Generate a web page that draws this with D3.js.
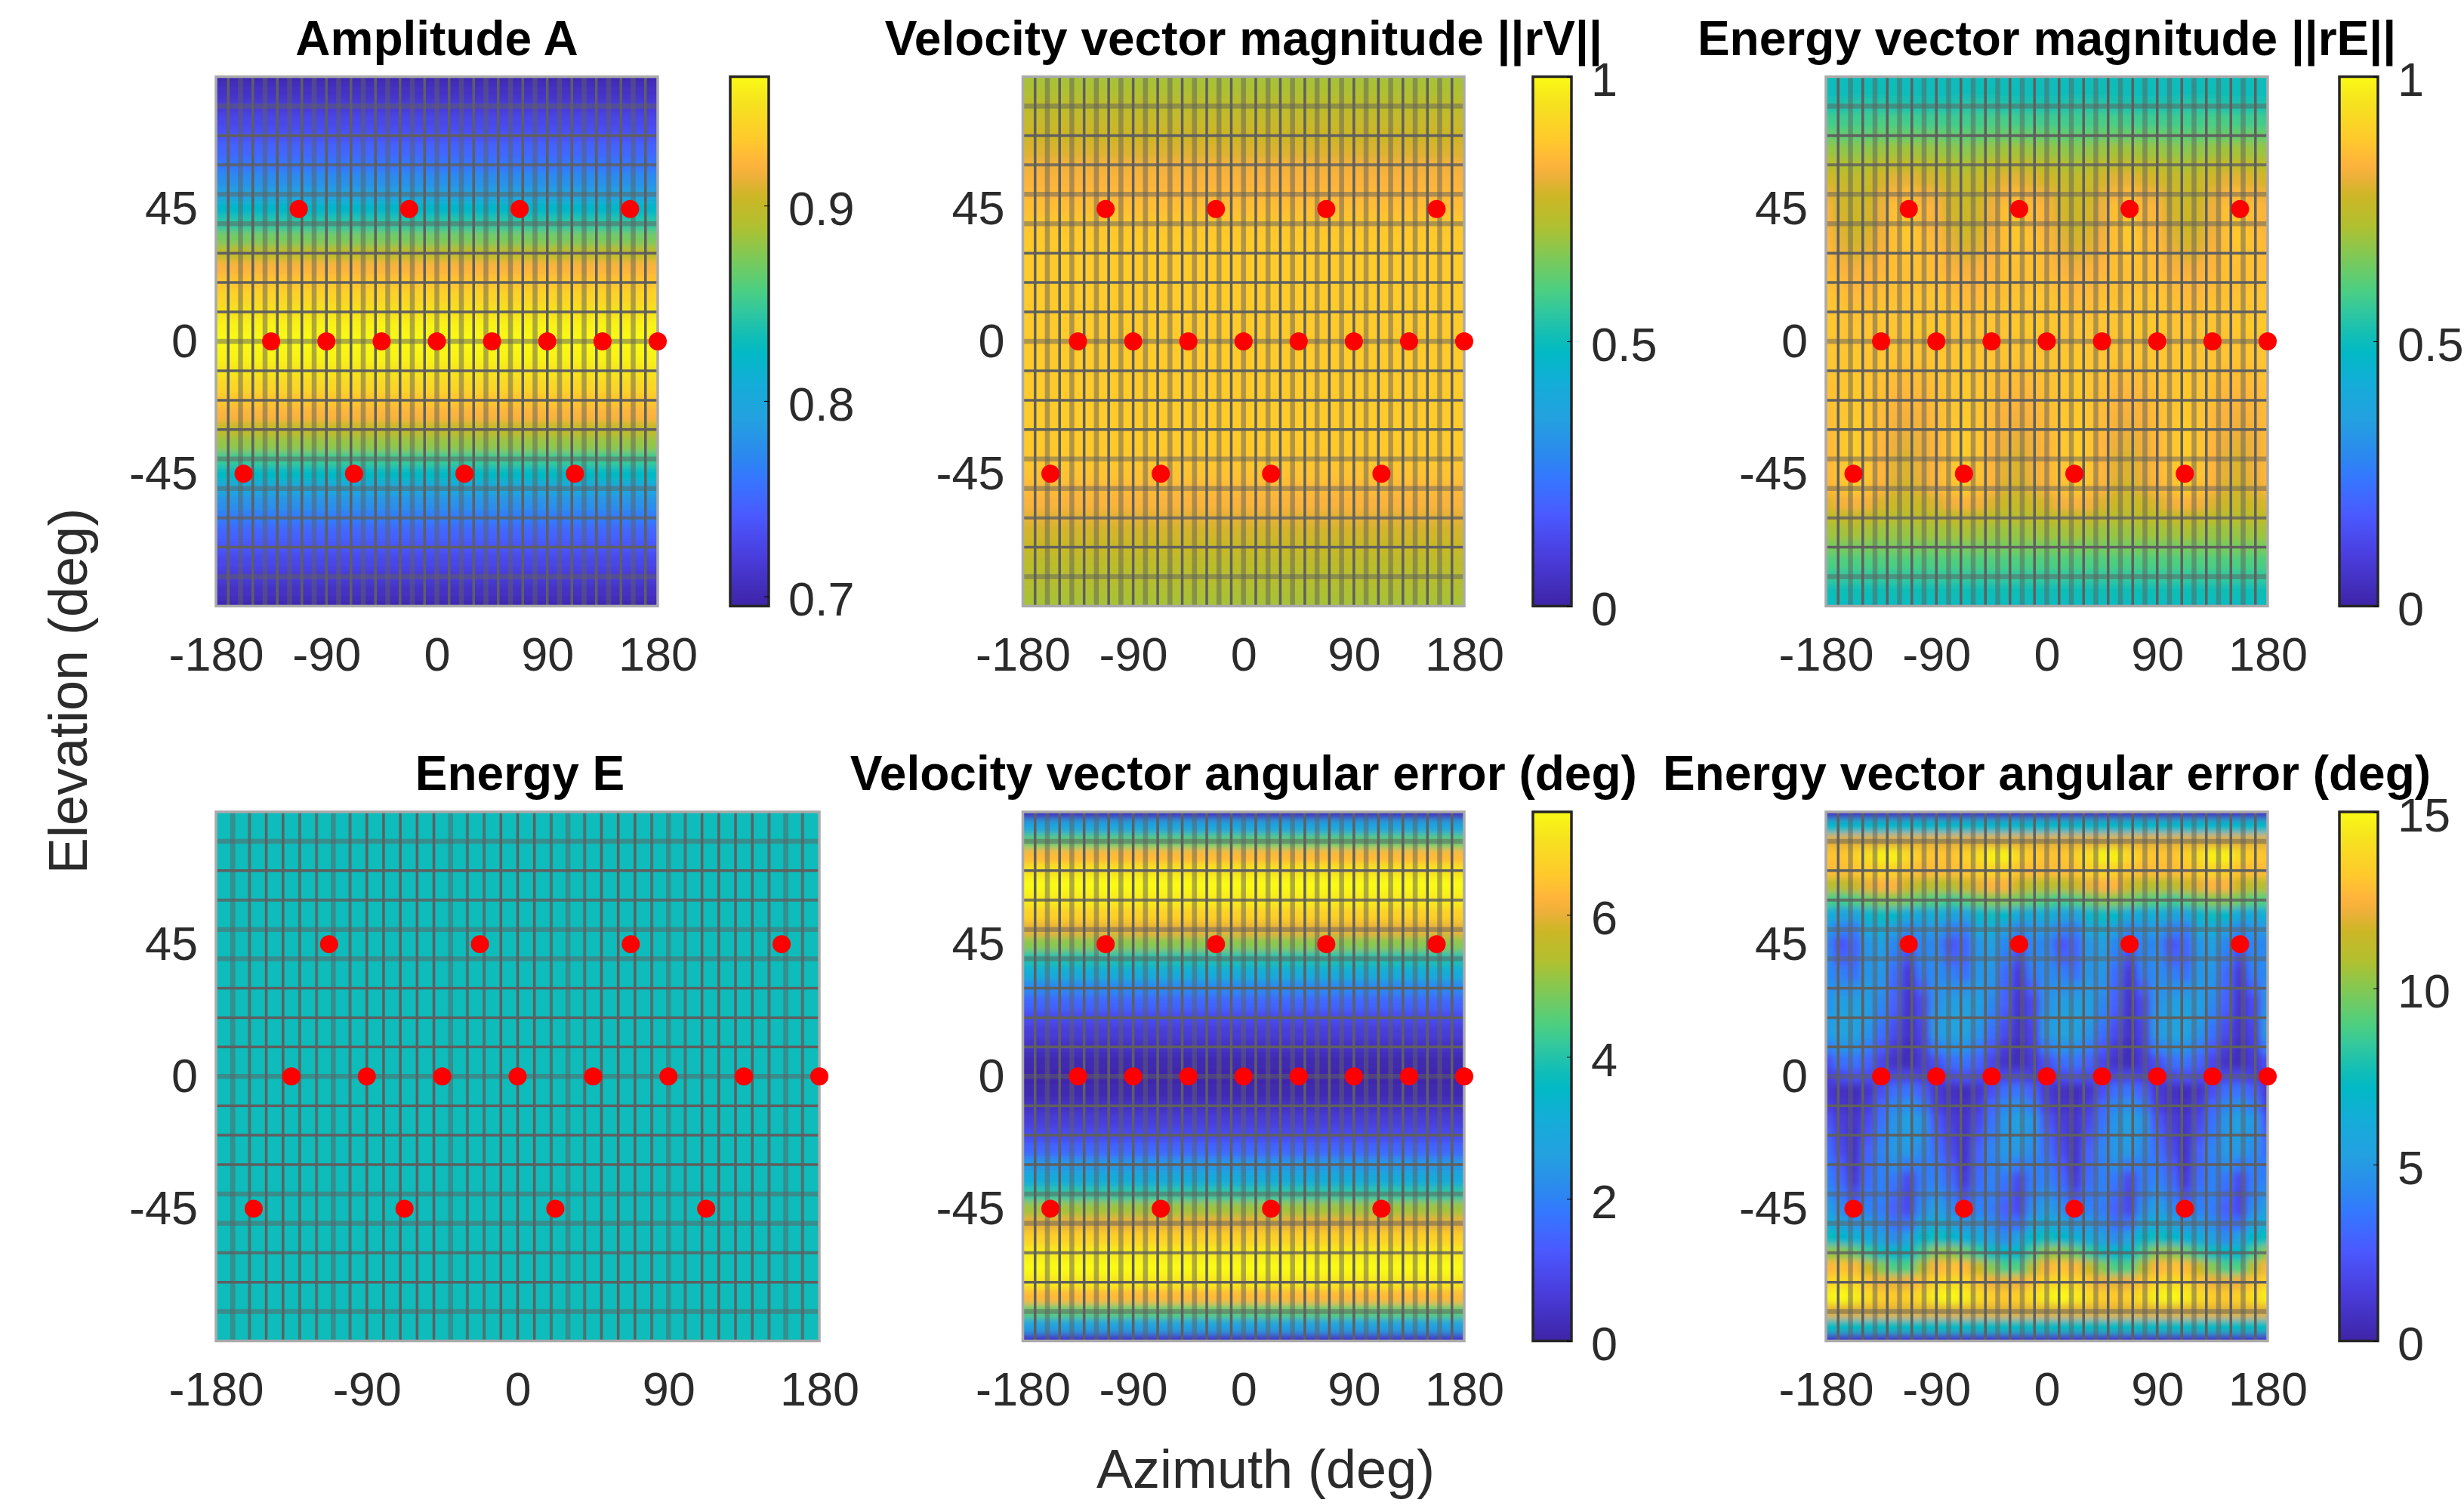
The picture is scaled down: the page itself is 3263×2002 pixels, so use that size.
<!DOCTYPE html>
<meta charset="utf-8">

<script src="https://d3js.org/d3.v7.min.js"></script>

<style type="text/css">
body { margin: 0; background: #fff; }
svg { display: block; filter: blur(0.6px); }
text { font-family: "Liberation Sans", Arial, sans-serif; }
</style>

<body></body>

<script>

// axes
var elevations = [90,85,80,75,70,65,60,55,50,45,40,35,30,25,20,15,10,5,0,-5,-10,-15,-20,-25,-30,-35,-40,-45,-50,-55,-60,-65,-70,-75,-80,-85,-90];
var azPeriod = [-180,-168.75,-157.5,-146.25,-135,-123.75,-112.5,-101.25]; // table columns, the picture repeats every 90 deg
var azTicks = [-180,-90,0,90,180];
var elTicks = [45,0,-45];

// loudspeaker positions (red dots)
var spkAz = [-112.5,-22.5,67.5,157.5,-135,-90,-45,0,45,90,135,180,-157.5,-67.5,22.5,112.5];
var spkEl = [45,45,45,45,0,0,0,0,0,0,0,0,-45,-45,-45,-45];

// values by elevation
var amplitudeA = [.700,.709,.717,.728,.736,.749,.760,.776,.793,.822,.844,.871,.896,.920,.931,.942,.952,.962,.966,.962,.954,.944,.931,.920,.898,.880,.850,.826,.800,.779,.763,.749,.738,.728,.717,.709,.700];
var velocityMag = [.705,.715,.74,.76,.775,.79,.815,.83,.845,.86,.875,.88,.885,.885,.885,.885,.885,.885,.885,.885,.885,.885,.885,.885,.885,.88,.875,.865,.85,.83,.80,.78,.765,.74,.73,.715,.705];
var energyE = [1,1,1,1,1,1,1,1,1,1,1,1,1,1,1,1,1,1,1,1,1,1,1,1,1,1,1,1,1,1,1,1,1,1,1,1,1];
var velocityErr = [.3,2.8,4.6,6.3,7.1,7.45,7.2,6.7,6.0,5.0,3.9,3.1,2.1,1.5,1.0,.65,.38,.15,.05,.15,.35,.65,1.0,1.5,2.4,3.0,4.1,5.2,6.0,6.7,7.2,7.45,7.15,6.3,4.6,2.7,.4];

// values by elevation (rows) and azimuth over one 90 deg period (columns)
var energyMag = [
  [.50,.50,.50,.50,.50,.50,.50,.50],
  [.50,.50,.50,.51,.51,.51,.50,.50],
  [.53,.53,.54,.54,.54,.53,.53,.53],
  [.58,.58,.58,.58,.59,.59,.58,.58],
  [.63,.62,.62,.62,.63,.63,.63,.63],
  [.69,.68,.67,.68,.69,.70,.70,.69],
  [.74,.72,.71,.72,.74,.75,.75,.74],
  [.78,.76,.75,.76,.78,.80,.80,.79],
  [.81,.78,.76,.77,.80,.83,.85,.82],
  [.83,.78,.77,.78,.81,.86,.88,.85],
  [.83,.79,.77,.78,.81,.86,.88,.85],
  [.84,.80,.78,.79,.82,.86,.88,.86],
  [.85,.81,.79,.80,.83,.86,.87,.86],
  [.85,.83,.82,.83,.84,.86,.86,.86],
  [.86,.85,.84,.84,.85,.86,.86,.86],
  [.87,.86,.85,.85,.86,.86,.87,.87],
  [.87,.87,.86,.86,.87,.87,.87,.87],
  [.88,.87,.87,.87,.87,.87,.88,.88],
  [.87,.87,.87,.87,.87,.87,.87,.87],
  [.87,.87,.88,.87,.87,.87,.87,.87],
  [.87,.87,.88,.87,.87,.86,.86,.86],
  [.86,.87,.88,.87,.86,.85,.85,.85],
  [.86,.87,.88,.87,.86,.84,.84,.84],
  [.85,.87,.88,.87,.85,.83,.82,.83],
  [.85,.87,.89,.87,.85,.82,.81,.82],
  [.84,.87,.89,.87,.84,.81,.80,.81],
  [.84,.87,.89,.87,.84,.80,.79,.81],
  [.84,.87,.89,.87,.84,.80,.79,.81],
  [.83,.86,.88,.86,.83,.79,.78,.80],
  [.79,.82,.83,.82,.79,.77,.76,.77],
  [.74,.75,.76,.75,.74,.73,.73,.74],
  [.70,.70,.71,.70,.69,.69,.69,.70],
  [.65,.65,.65,.65,.65,.65,.65,.65],
  [.60,.60,.60,.60,.60,.60,.60,.60],
  [.56,.56,.56,.56,.56,.56,.56,.56],
  [.51,.51,.51,.51,.51,.51,.51,.51],
  [.49,.49,.49,.49,.49,.49,.49,.49]
];
var energyErr = [
  [.7,.7,.7,.7,.7,.7,.7,.7],
  [7,7,7,7,7,7,7,7],
  [12,12,12,12,12,12,12,12],
  [13,13,13.5,14,14.7,14.7,13.8,13.2],
  [12.8,12.8,13,13.4,13.6,13.5,13,12.7],
  [11,11,11.5,12,12.5,12.5,11.5,11],
  [9,8.6,9,9.5,10,10,9.6,9.2],
  [6.4,5.6,5.4,6.8,7.4,7,6,6],
  [5,4,3.8,5.8,6.2,5.2,4.2,4.8],
  [4.2,2.4,3,4.8,5.2,4.2,2.8,4.2],
  [4.4,3,3,4.8,5,3.8,2,4.2],
  [4.4,4,3.4,4.8,4.8,3.2,1.3,3.8],
  [4.6,4.6,4.6,5,4.6,3,1.1,2.8],
  [4.6,5.2,5.2,5.2,4.3,2.8,1,2],
  [4.9,5.4,5.4,5.1,3.9,2.4,.9,2],
  [5,5.5,5.4,4.8,3.4,2,.9,1.7],
  [3.9,4.7,4.7,3.9,2.6,1.3,.6,1.6],
  [2.2,3.3,3.5,2.9,1.8,.9,.5,1.2],
  [1.4,2,2.2,2,1.8,1.8,1.8,1.6],
  [1.2,.8,.6,1,2.2,3.3,3.5,2.8],
  [1.6,1,.7,1.4,3,4.2,4.6,3.8],
  [2.4,1.4,1,1.9,3.4,4.8,5.3,4.8],
  [2.9,1.7,.9,2.3,3.8,4.9,5.2,4.7],
  [3.3,2,.9,2.8,4.1,4.9,5,4.4],
  [3.7,2.6,1,3,4,4.5,3.8,4],
  [4,3.1,1.2,3.2,4,3.6,2,3.8],
  [4.6,3.7,2,3.6,4,3.2,1.8,4],
  [5.2,4.4,3.2,4,3.8,2.8,1.9,4.4],
  [6.2,5.6,4.8,4.9,4.4,3.4,3.4,5.6],
  [7.5,7,6.5,6,5.2,4.4,5.4,7],
  [10.2,10.2,9.5,8.5,7.5,7,7.2,8.8],
  [12.5,13,12.7,11.5,10,8.8,9,11],
  [13.6,14,13.8,13,12.2,12,12.2,13],
  [14.6,15,14.6,14,13.4,13.2,13.5,14],
  [12,12,12,12,12,12,12,12],
  [7.3,7.3,7.3,7.3,7.3,7.3,7.3,7.3],
  [.9,.9,.9,.9,.9,.9,.9,.9]
];

// colorbar ticks
var ampTicks = [.7,.8,.9];
var magTicks = [0,.5,1];
var velErrTicks = [0,2,4,6];
var enErrTicks = [0,5,10,15];

// the colormap as seen on the colorbars
var mapT = [0,.1,.173,.244,.28,.35,.42,.477,.512,.555,.597,.668,.717,.775,.81,.837,.88,.95,1];
var mapC = ["#3e24a6","#4a3fe0","#4a5aff","#3478ff","#2c87f0","#24a0e0","#14add8","#02b9c6","#12beb5","#30c7a0","#4ccf81","#86c851","#b0c030","#cdb626","#edb03a","#ffb43c","#ffc92c","#f6e21f","#fafa14"];
var parula = d3.scaleLinear().domain(mapT).range(mapC);

// grid lines: 10 deg apart, the picture resampled them so some look faint
var gridAz = d3.range(-170, 171, 10);
var gridEl = d3.range(-80, 81, 10);
var faintEl = [80,50,40,0,-40,-50,-80];
var midEl = [60,-60];
var faintAzWide = [-170,-110,-40,30,90,160];
var midAzWide = [-160,-130,-120,-100,-30,-20,20,40,80,100,150,170];

var top1 = 101.5, bot1 = 802.5, top2 = 1075, bot2 = 1775.5;
var panels = [
  {title: "Amplitude A", l: 286, r: 871, t: top1, b: bot1, cb: 96, data: amplitudeA, dom: [.695,.966], ticks: ampTicks, fmt: d3.format(".1f")},
  {title: "Velocity vector magnitude ||rV||", l: 1354.5, r: 1939, t: top1, b: bot1, cb: 91, data: velocityMag, dom: [0,1], ticks: magTicks, fmt: String},
  {title: "Energy vector magnitude ||rE||", l: 2418, r: 3003, t: top1, b: bot1, cb: 95, table: energyMag, dom: [0,1], ticks: magTicks, fmt: String},
  {title: "Energy E", l: 286, r: 1085, t: top2, b: bot2, tx: 3, data: energyE, dom: [0,2]},
  {title: "Velocity vector angular error (deg)", l: 1354.5, r: 1939, t: top2, b: bot2, cb: 91, data: velocityErr, dom: [0,7.45], ticks: velErrTicks, fmt: String},
  {title: "Energy vector angular error (deg)", l: 2418, r: 3003, t: top2, b: bot2, cb: 95, table: energyErr, dom: [0,15], ticks: enErrTicks, fmt: String}
];

var tickFont = 63, titleFont = 64, labelFont = 72, ink = "#2b2b2b";

var svg = d3.select("body").append("svg")
    .attr("width", 3263)
    .attr("height", 2002);

var defs = svg.append("defs");

defs.append("filter")
    .attr("id", "soft")
    .attr("filterUnits", "userSpaceOnUse")
    .attr("x", 0).attr("y", 0).attr("width", 3263).attr("height", 2002)
  .append("feGaussianBlur")
    .attr("edgeMode", "duplicate")
    .attr("stdDeviation", "4 5");

var grad = defs.append("linearGradient")
    .attr("id", "bar")
    .attr("x1", 0).attr("x2", 0).attr("y1", 1).attr("y2", 0);
grad.selectAll("stop")
    .data(mapT)
    .enter().append("stop")
    .attr("offset", d => d)
    .attr("stop-color", (d, i) => mapC[i]);

panels.forEach(function(p, n) {

  var xScale = d3.scaleLinear().domain([-180, 180]).range([p.l, p.r]);
  var yScale = d3.scaleLinear().domain([-90, 90]).range([p.b, p.t]);
  var tScale = d3.scaleLinear().domain(p.dom).range([0, 1]);
  var color = v => parula(tScale(v));
  var wide = p.r - p.l > 700;

  defs.append("clipPath")
      .attr("id", "clip" + n)
    .append("rect")
      .attr("x", p.l).attr("y", p.t)
      .attr("width", p.r - p.l).attr("height", p.b - p.t);

  var g = svg.append("g");
  var field = g.append("g").attr("clip-path", `url(#clip${n})`)
    .append("g").attr("filter", "url(#soft)");

  if (p.data) {
    field.selectAll("rect")
      .data(p.data)
      .enter().append("rect")
      .attr("x", p.l - 30)
      .attr("width", p.r - p.l + 60)
      .attr("y", (d, i) => yScale(elevations[i] + 2.5))
      .attr("height", (d, i) => yScale(elevations[i] - 2.5) - yScale(elevations[i] + 2.5) + 1)
      .attr("fill", color);
  } else {
    var cells = [];
    p.table.forEach(function(row, i) {
      d3.range(33).forEach(function(k) {
        cells.push({el: elevations[i], az: azPeriod[k % 8] + 90 * Math.floor(k / 8), v: row[k % 8]});
      });
    });
    field.selectAll("rect")
      .data(cells)
      .enter().append("rect")
      .attr("x", d => xScale(d.az - 5.625))
      .attr("width", xScale(11.25) - xScale(0) + 1)
      .attr("y", d => yScale(d.el + 2.5))
      .attr("height", yScale(-2.5) - yScale(2.5) + 1)
      .attr("fill", d => color(d.v));
  }

  // grid
  function lineStyle(sel, isFaint, isMid) {
    sel.attr("stroke", "#5f5f5f")
      .attr("stroke-width", d => isFaint(d) ? 6.5 : isMid(d) ? 4 : 3.5)
      .attr("stroke-opacity", d => isFaint(d) ? .5 : isMid(d) ? .8 : 1);
  }
  g.selectAll(".gridx")
    .data(gridAz)
    .enter().append("line")
    .attr("class", "gridx")
    .attr("x1", d => xScale(d)).attr("x2", d => xScale(d))
    .attr("y1", p.t).attr("y2", p.b)
    .call(lineStyle,
      d => wide ? faintAzWide.includes(d) : Math.abs(d) % 20 == 0,
      d => wide && midAzWide.includes(d));
  g.selectAll(".gridy")
    .data(gridEl)
    .enter().append("line")
    .attr("class", "gridy")
    .attr("x1", p.l).attr("x2", p.r)
    .attr("y1", d => yScale(d)).attr("y2", d => yScale(d))
    .call(lineStyle, d => faintEl.includes(d), d => midEl.includes(d));

  // box
  g.append("rect")
    .attr("x", p.l).attr("y", p.t)
    .attr("width", p.r - p.l).attr("height", p.b - p.t)
    .attr("fill", "none")
    .attr("stroke", "#aaa")
    .attr("stroke-width", 3.5);

  // speakers
  g.selectAll(".spk")
    .data(spkAz)
    .enter().append("circle")
    .attr("class", "spk")
    .attr("cx", d => xScale(d))
    .attr("cy", (d, i) => yScale(spkEl[i]))
    .attr("r", 12)
    .attr("fill", "#f00");

  // axes
  var xAxis = d3.axisBottom(xScale).tickValues(azTicks).tickFormat(String).tickSize(0).tickPadding(41);
  var yAxis = d3.axisLeft(yScale).tickValues(elTicks).tickFormat(String).tickSize(0).tickPadding(24);
  g.append("g")
    .attr("transform", `translate(0,${p.b})`)
    .call(xAxis)
    .call(a => a.select(".domain").remove())
    .selectAll("text")
    .attr("font-size", tickFont)
    .attr("fill", ink);
  g.append("g")
    .attr("transform", `translate(${p.l},0)`)
    .call(yAxis)
    .call(a => a.select(".domain").remove())
    .selectAll("text")
    .attr("font-size", tickFont)
    .attr("fill", ink);

  // title
  g.append("text")
    .attr("x", (p.l + p.r) / 2 + (p.tx || 0))
    .attr("y", p.t - 29)
    .attr("text-anchor", "middle")
    .attr("font-weight", "bold")
    .attr("font-size", titleFont)
    .attr("fill", "#000")
    .text(p.title);

  // colorbar
  if (p.ticks) {
    var cbL = p.r + p.cb, cbR = cbL + 51;
    var cScale = d3.scaleLinear().domain(p.dom).range([p.b, p.t]);
    g.append("rect")
      .attr("x", cbL).attr("y", p.t)
      .attr("width", cbR - cbL).attr("height", p.b - p.t)
      .attr("fill", "url(#bar)")
      .attr("stroke", "#262626")
      .attr("stroke-width", 3.5);
    var cAxis = d3.axisRight(cScale).tickValues(p.ticks).tickSize(-6).tickPadding(26).tickFormat(p.fmt);
    g.append("g")
      .attr("transform", `translate(${cbR},0)`)
      .call(cAxis)
      .call(a => a.select(".domain").remove())
      .selectAll("text")
      .attr("dy", "0.4em")
      .attr("font-size", tickFont)
      .attr("fill", ink);
  }
});

// shared axis labels
svg.append("text")
  .attr("x", 1676)
  .attr("y", 1970)
  .attr("text-anchor", "middle")
  .attr("font-size", labelFont)
  .attr("fill", ink)
  .text("Azimuth (deg)");

svg.append("text")
  .attr("transform", "translate(115,915) rotate(-90)")
  .attr("text-anchor", "middle")
  .attr("font-size", labelFont)
  .attr("fill", ink)
  .text("Elevation (deg)");

</script>
